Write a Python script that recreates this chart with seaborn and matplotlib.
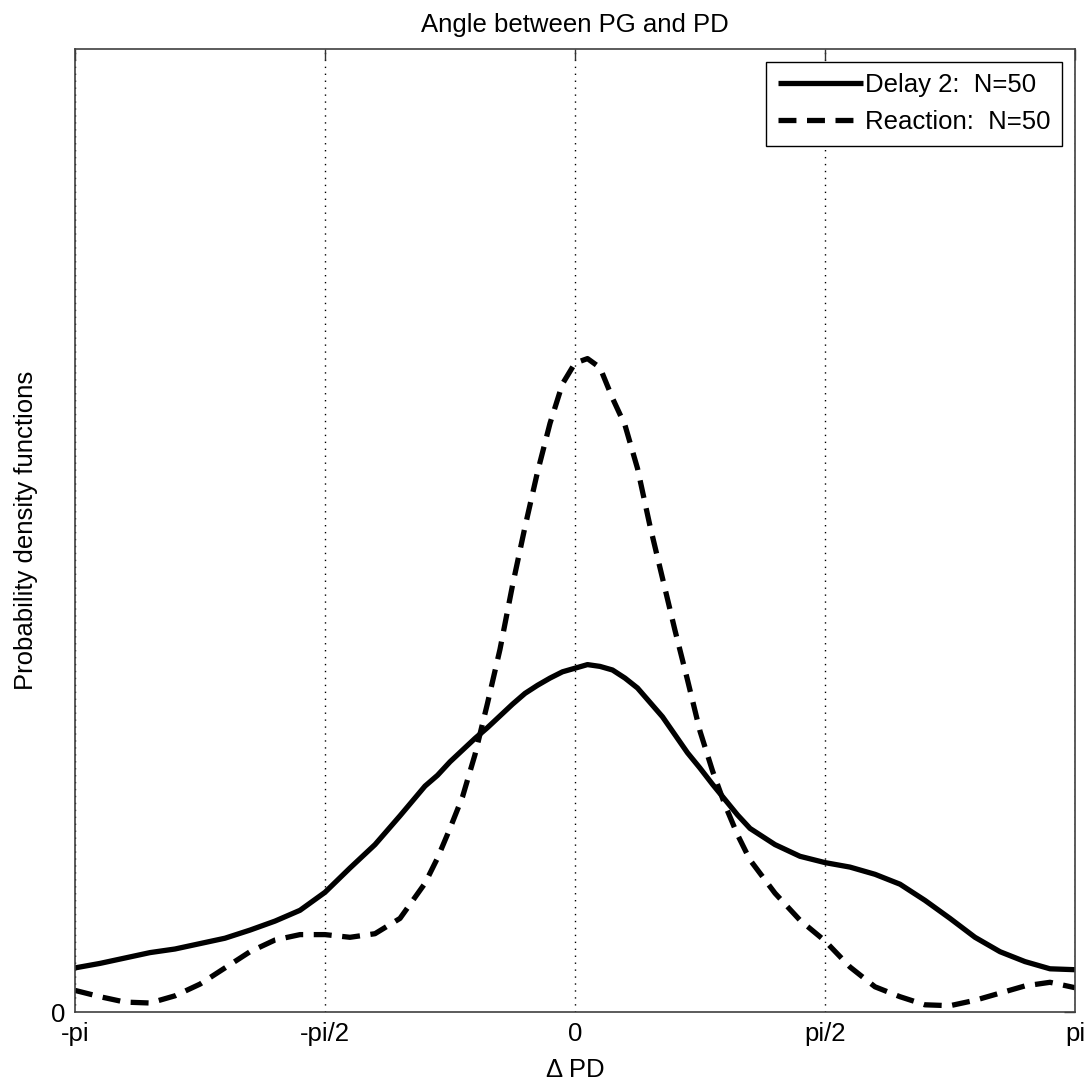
import numpy as np
import pandas as pd
import matplotlib
matplotlib.use("Agg")
import matplotlib.pyplot as plt
import seaborn as sns

# x positions in units of pi (from -pi to pi)
x_over_pi = [-1.00, -0.95, -0.90, -0.85, -0.80, -0.75, -0.70, -0.65, -0.60, -0.55,
             -0.50, -0.45, -0.40, -0.35, -0.30,
             -0.275, -0.25, -0.225, -0.20, -0.175, -0.15, -0.125, -0.10, -0.075, -0.05,
             -0.025, 0.00, 0.025, 0.05, 0.075, 0.10, 0.125, 0.15, 0.175, 0.20,
             0.225, 0.25, 0.275, 0.30, 0.325,
             0.35, 0.40, 0.45, 0.50, 0.55, 0.60, 0.65, 0.70, 0.75, 0.80,
             0.85, 0.90, 0.95, 1.00]

delay2_pdf = [0.049, 0.054, 0.060, 0.066, 0.070, 0.076, 0.082, 0.091, 0.101, 0.113,
              0.133, 0.160, 0.186, 0.218, 0.251,
              0.263, 0.278, 0.291, 0.304, 0.316, 0.329, 0.342, 0.354, 0.363, 0.371,
              0.378, 0.382, 0.386, 0.384, 0.380, 0.371, 0.360, 0.344, 0.328, 0.308,
              0.288, 0.271, 0.253, 0.236, 0.219,
              0.204, 0.186, 0.173, 0.166, 0.161, 0.153, 0.142, 0.124, 0.104, 0.083,
              0.067, 0.056, 0.048, 0.047]

reaction_pdf = [0.024, 0.017, 0.011, 0.010, 0.018, 0.031, 0.049, 0.067, 0.080, 0.086,
                0.086, 0.083, 0.087, 0.104, 0.143,
                0.171, 0.204, 0.239, 0.286, 0.343, 0.403, 0.474, 0.539, 0.600, 0.654,
                0.698, 0.721, 0.726, 0.716, 0.682, 0.652, 0.604, 0.540, 0.482, 0.424,
                0.369, 0.312, 0.268, 0.230, 0.197,
                0.169, 0.132, 0.102, 0.079, 0.050, 0.028, 0.017, 0.008, 0.007, 0.013,
                0.021, 0.029, 0.033, 0.027]

series_labels = ["Delay 2:  N=50", "Reaction:  N=50"]
xtick_labels = ["-pi", "-pi/2", "0", "pi/2", "pi"]
xtick_over_pi = [-1.0, -0.5, 0.0, 0.5, 1.0]

sns.set_style("white")
plt.rcParams['font.family'] = ['Liberation Sans', 'DejaVu Sans']
plt.rcParams['text.color'] = 'black'
plt.rcParams['axes.labelcolor'] = 'black'

x = np.array(x_over_pi) * np.pi
df_d = pd.DataFrame({"x": x, "y": delay2_pdf})
df_r = pd.DataFrame({"x": x, "y": reaction_pdf})

fig = plt.figure(figsize=(10.88, 10.85), dpi=100)
ax = fig.add_axes([75 / 1088, 73 / 1085, 1000 / 1088, 963 / 1085])

fs = 18.5
sns.lineplot(data=df_d, x="x", y="y", ax=ax, color="black", linewidth=3.8,
             label=series_labels[0], solid_joinstyle="round", solid_capstyle="butt")
sns.lineplot(data=df_r, x="x", y="y", ax=ax, color="black", linewidth=3.8,
             linestyle=(0, (3.4, 2.0)), label=series_labels[1])

ax.set_xlim(-np.pi, np.pi)
ax.set_ylim(0, 963 / 900)
ax.set_xticks(np.array(xtick_over_pi) * np.pi)
ax.set_xticklabels(xtick_labels)
ax.set_yticks([0])
ax.set_yticklabels(["0"])

ax.tick_params(axis="both", direction="in", length=8, width=1, labelsize=fs,
               color="0.2", labelcolor="black", pad=7, top=True, right=True)
for s in ax.spines.values():
    s.set_visible(True)
    s.set_color("0.25")
    s.set_linewidth(1.2)

ax.xaxis.grid(True, linestyle=(0, (1, 4)), color="black", linewidth=1)
ax.yaxis.grid(False)
ax.set_axisbelow(True)

ax.set_title("Angle between PG and PD", fontsize=fs, pad=12, color="black")
ax.set_xlabel("\u0394 PD", fontsize=fs, labelpad=9, color="black")
ax.set_ylabel("Probability density functions", fontsize=fs, labelpad=9, color="black")

leg = ax.legend(loc="upper right", fontsize=fs, handlelength=3.3, handletextpad=0.1,
                borderpad=0.45, labelspacing=0.5, fancybox=False, framealpha=1,
                edgecolor="black", borderaxespad=0.5)
leg.get_frame().set_linewidth(1.0)
for t in leg.get_texts():
    t.set_color("black")

fig.savefig("out.png", dpi=100)
